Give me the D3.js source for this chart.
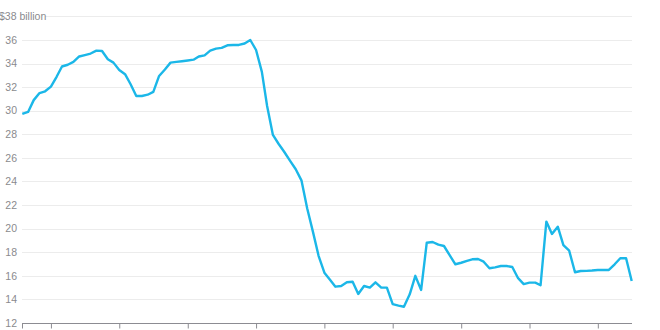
<!DOCTYPE html>
<html>
<head>
<meta charset="utf-8">
<script src="https://cdn.jsdelivr.net/npm/d3@7"></script>
<style>
    body { margin: 0; background: #fff; }
    svg { display: block; font-family: "Liberation Sans", Arial, sans-serif; }
    .grid line { stroke: #ececec; stroke-width: 1; }
    .ylabel { fill: #8a8a8e; font-size: 10.5px; }
    .x-axis path, .x-axis line { stroke: #8c8c92; }
</style>
</head>
<body>
<div id="chart"></div>
<script>
// monthly values, $ billion, Aug 2014 .. Jul 2023
const startMonth = new Date(2014, 7, 1);
const values = [
    29.73, 29.9, 30.9, 31.5, 31.65, 32.05, 32.9, 33.75, 33.9, 34.14,
    34.6, 34.72, 34.85, 35.1, 35.07, 34.37, 34.08, 33.46, 33.1, 32.27,
    31.25, 31.25, 31.36, 31.6, 32.95, 33.5, 34.08, 34.14, 34.2, 34.26,
    34.33, 34.6, 34.7, 35.1, 35.27, 35.33, 35.55, 35.57, 35.58, 35.7,
    36.0, 35.15, 33.3, 30.4, 27.95, 27.2, 26.5, 25.77, 25.04, 24.07,
    21.73, 19.73, 17.7, 16.27, 15.65, 15.08, 15.14, 15.45, 15.5, 14.46,
    15.14, 15.0, 15.45, 15.0, 15.0, 13.6, 13.47, 13.38, 14.43, 16.0,
    14.8, 18.81, 18.87, 18.64, 18.53, 17.74, 16.98, 17.11, 17.26, 17.4,
    17.43, 17.2, 16.64, 16.72, 16.83, 16.83, 16.75, 15.8, 15.3, 15.42,
    15.42, 15.2, 20.6, 19.55, 20.17, 18.6, 18.13, 16.3, 16.41, 16.42,
    16.45, 16.5, 16.5, 16.5, 16.98, 17.49, 17.49, 15.56
];
const yTicks = [12, 14, 16, 18, 20, 22, 24, 26, 28, 30, 32, 34, 36, 38];
const topLabel = '$38 billion';

const width = 660, height = 330;
const dates = values.map((v, i) => d3.timeMonth.offset(startMonth, i));
const data = values.map((v, i) => ({ date: dates[i], value: v }));

const svg = d3.select('#chart').append('svg')
    .attr('width', width)
    .attr('height', height);

const x = d3.scaleTime()
    .domain(d3.extent(dates))
    .range([22.3, 631.7]);

const y = d3.scaleLinear()
    .domain([12, 38])
    .range([323, 16.4]);

// gridlines (the top one starts after its label)
svg.append('g').attr('class', 'grid')
    .selectAll('line')
    .data(yTicks.filter(t => t > 12))
    .join('line')
    .attr('x1', d => d === 38 ? 45 : 22)
    .attr('x2', 632)
    .attr('y1', d => Math.round(y(d)) + 0.5)
    .attr('y2', d => Math.round(y(d)) + 0.5);

// y labels
svg.append('g')
    .selectAll('text')
    .data(yTicks)
    .join('text')
    .attr('class', 'ylabel')
    .attr('x', d => d === 38 ? -1 : 17)
    .attr('y', d => y(d))
    .attr('dy', '0.35em')
    .attr('text-anchor', d => d === 38 ? 'start' : 'end')
    .text(d => d === 38 ? topLabel : d);

// x axis, labels fall below the visible area
const xAxis = d3.axisBottom(x)
    .ticks(d3.timeYear.every(1))
    .tickSize(5)
    .tickSizeOuter(0)
    .tickFormat('');

const gx = svg.append('g')
    .attr('class', 'x-axis')
    .attr('transform', `translate(0,${Math.round(y(12)) + 0.5})`)
    .call(xAxis);
gx.select('.domain').attr('d', 'M22,0H632');
gx.append('line')
    .attr('x1', 22.5).attr('x2', 22.5)
    .attr('y1', 0).attr('y2', 5);

// line
const line = d3.line()
    .x(d => x(d.date))
    .y(d => y(d.value));

svg.append('path')
    .datum(data)
    .attr('fill', 'none')
    .attr('stroke', '#1bb7e8')
    .attr('stroke-width', 2.4)
    .attr('stroke-linejoin', 'round')
    .attr('d', line);
</script>
</body>
</html>
